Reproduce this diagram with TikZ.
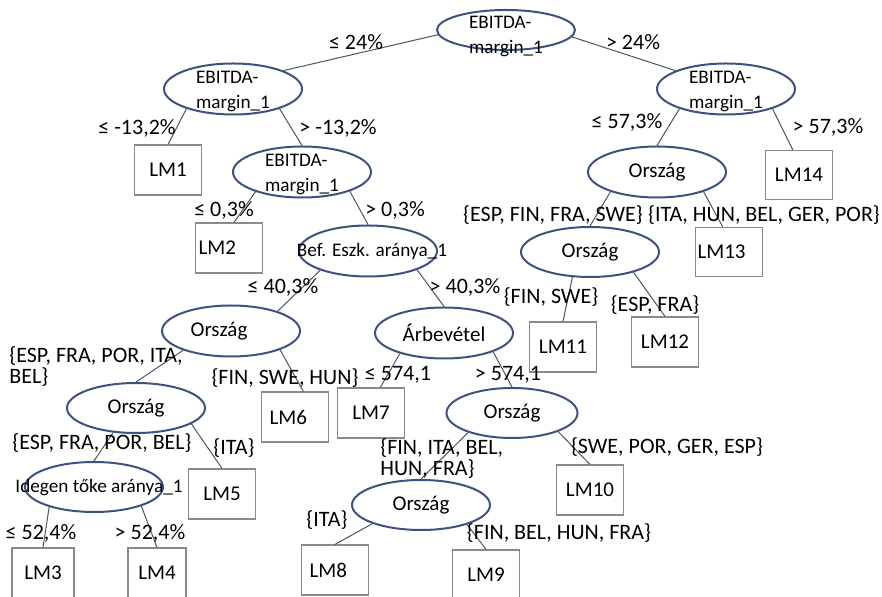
\documentclass[tikz,border=0pt]{standalone}
\usepackage{fontspec}
\setmainfont{Carlito}
\usetikzlibrary{shapes, positioning}
\definecolor{splitblue}{RGB}{62,82,128}
\definecolor{edgegray}{RGB}{78,84,100}
\definecolor{boxgray}{RGB}{138,138,138}
\tikzset{
         mysplit/.style={ellipse, draw=splitblue, line width=1pt, minimum width=69pt, minimum height=25.5pt, inner sep=0pt, font=\fontsize{10.5}{12}\selectfont},
         mytext/.style={font=\fontsize{9.6}{12.5}\selectfont, align=left, inner sep=0pt},
         myleaf/.style={draw=boxgray, line width=0.6pt, minimum width=33.5pt, minimum height=25pt, inner sep=0pt, font=\fontsize{10.5}{12}\selectfont},
         myleft/.style={myleaf, align=left, inner xsep=#1, text width=33.5pt-2*#1},
         mycond/.style={inner sep=0pt, font=\fontsize{11}{10.5}\selectfont, align=left},
         myedge/.style={draw=edgegray, line width=0.5pt}
      }

\begin{document}
\begin{tikzpicture}[x=0.5pt, y=-0.5pt]
  \useasboundingbox[fill=white] (0,0) rectangle (882,597);
  % split nodes
  \node[mysplit, minimum height=20pt, label={[mytext, yshift=-3pt]center:EBITDA-\\margin\_1}] (root) at (506,30) {};
  \node[mysplit, label={[mytext, yshift=-1pt]center:EBITDA-\\margin\_1}] (ebl) at (233,89) {};
  \node[mysplit, label={[mytext, yshift=-1pt]center:EBITDA-\\margin\_1}] (ebr) at (726,89) {};
  \node[mysplit, label={[mytext, yshift=-1pt]center:EBITDA-\\margin\_1}] (ebl2) at (302,172) {};
  \node[mysplit, label={[mytext, xshift=2pt]center:Bef. Eszk. aránya\_1}] (bef) at (368,251) {};
  \node[mysplit, label={[mysplit, draw=none, minimum size=0pt, xshift=-6pt]center:Ország}] (orsa) at (231,331) {};
  \node[mysplit] (arb) at (444,333) {Árbevétel};
  \node[mysplit, minimum height=25pt] (orsb) at (136,408) {Ország};
  \node[mysplit, minimum height=25pt, label={[mytext, xshift=2.5pt]center:Idegen tőke aránya\_1}] (idg) at (94,487) {};
  \node[mysplit, minimum width=65.5pt, minimum height=25pt] (orsc) at (512,413) {Ország};
  \node[mysplit, minimum height=25pt] (orsd) at (421,505) {Ország};
  \node[mysplit] (orse) at (657,172) {Ország};
  \node[mysplit, minimum height=25pt] (orsf) at (590,252) {Ország};
  % leaves
  \node[myleaf] (lm1) at (168,170) {LM1};
  \node[myleft=1.5pt] (lm2) at (229,248) {LM2};
  \node[myleaf, minimum width=31pt] (lm3) at (43,573) {LM3};
  \node[myleaf, minimum width=29pt] (lm4) at (157,573) {LM4};
  \node[myleaf] (lm5) at (222,494) {LM5};
  \node[myleft=4pt] (lm6) at (295,417) {LM6};
  \node[myleaf] (lm7) at (371,413) {LM7};
  \node[myleft=4pt] (lm8) at (335,570) {LM8};
  \node[myleaf] (lm9) at (486,575) {LM9};
  \node[myleaf] (lm10) at (590,490) {LM10};
  \node[myleaf] (lm11) at (563,347) {LM11};
  \node[myleaf] (lm12) at (665,342) {LM12};
  \node[myleft=1pt, minimum height=24.5pt] (lm13) at (729,252) {LM13};
  \node[myleaf, minimum height=24.5pt] (lm14) at (799,175) {LM14};
  % connectors
  \draw[myedge] (root.184) -- (ebl.20)  (root.-6) -- (ebr.160)
                (ebl.203) -- (lm1.north)  (ebl.-23) -- (ebl2.north)
                (ebl2.203) -- (lm2.79)  (ebl2.-22) -- (bef.north)
                (bef.202) -- (orsa.23)  (bef.-21) -- (arb.north)
                (orsa.202) -- (orsb.north)  (orsa.-21) -- (lm6.72)
                (orsb.227) -- (idg.north)  (orsb.-16) -- (lm5.north)
                (idg.204) -- (lm3.north)  (idg.-22) -- (lm4.north)
                (arb.205) -- (lm7.70)  (arb.-21) -- (orsc.north)
                (orsc.204) -- (orsd.north)  (orsc.-22) -- (lm10.north)
                (orsd.201) -- (lm8.north)  (orsd.-23) -- (lm9.north)
                (ebr.203) -- (orse.north)  (ebr.-23) -- (lm14.104)
                (orse.203) -- (orsf.north)  (orse.-23) -- (lm13.104)
                (orsf.235) -- (lm11.north)  (orsf.-25) -- (lm12.north);
  % conditions
  \node[mycond] (c1) at (356,42) {≤ 24\%};
  \node[mycond] (c2) at (633,42) {> 24\%};
  \node[mycond] (c3) at (137,128) {≤ -13,2\%};
  \node[mycond] (c4) at (338,128) {> -13,2\%};
  \node[mycond] (c5) at (224,210) {≤ 0,3\%};
  \node[mycond] (c6) at (395,210) {> 0,3\%};
  \node[mycond] (c7) at (283,287) {≤ 40,3\%};
  \node[mycond] (c8) at (465,287) {> 40,3\%};
  \node[mycond, anchor=west] (c9) at (9,367) {\{ESP, FRA, POR, ITA,\\BEL\}};
  \node[mycond] (c10) at (285,378) {\{FIN, SWE, HUN\}};
  \node[mycond] (c11) at (398,375) {≤ 574,1};
  \node[mycond] (c12) at (508,375) {> 574,1};
  \node[mycond] (c13) at (102,443) {\{ESP, FRA, POR, BEL\}};
  \node[mycond] (c14) at (234,448) {\{ITA\}};
  \node[mycond, anchor=west] (c15) at (380,459) {\{FIN, ITA, BEL,\\HUN, FRA\}};
  \node[mycond] (c16) at (667,447) {\{SWE, POR, GER, ESP\}};
  \node[mycond] (c17) at (327,520) {\{ITA\}};
  \node[mycond] (c18) at (559,533) {\{FIN, BEL, HUN, FRA\}};
  \node[mycond] (c19) at (41,533) {≤ 52,4\%};
  \node[mycond] (c20) at (150,533) {> 52,4\%};
  \node[mycond] (c21) at (627,122) {≤ 57,3\%};
  \node[mycond] (c22) at (828,127) {> 57,3\%};
  \node[mycond] (c23) at (553,215) {\{ESP, FIN, FRA, SWE\}};
  \node[mycond] (c24) at (764,215) {\{ITA, HUN, BEL, GER, POR\}};
  \node[mycond] (c25) at (551,297) {\{FIN, SWE\}};
  \node[mycond] (c26) at (655,305) {\{ESP, FRA\}};
\end{tikzpicture}
\end{document}
